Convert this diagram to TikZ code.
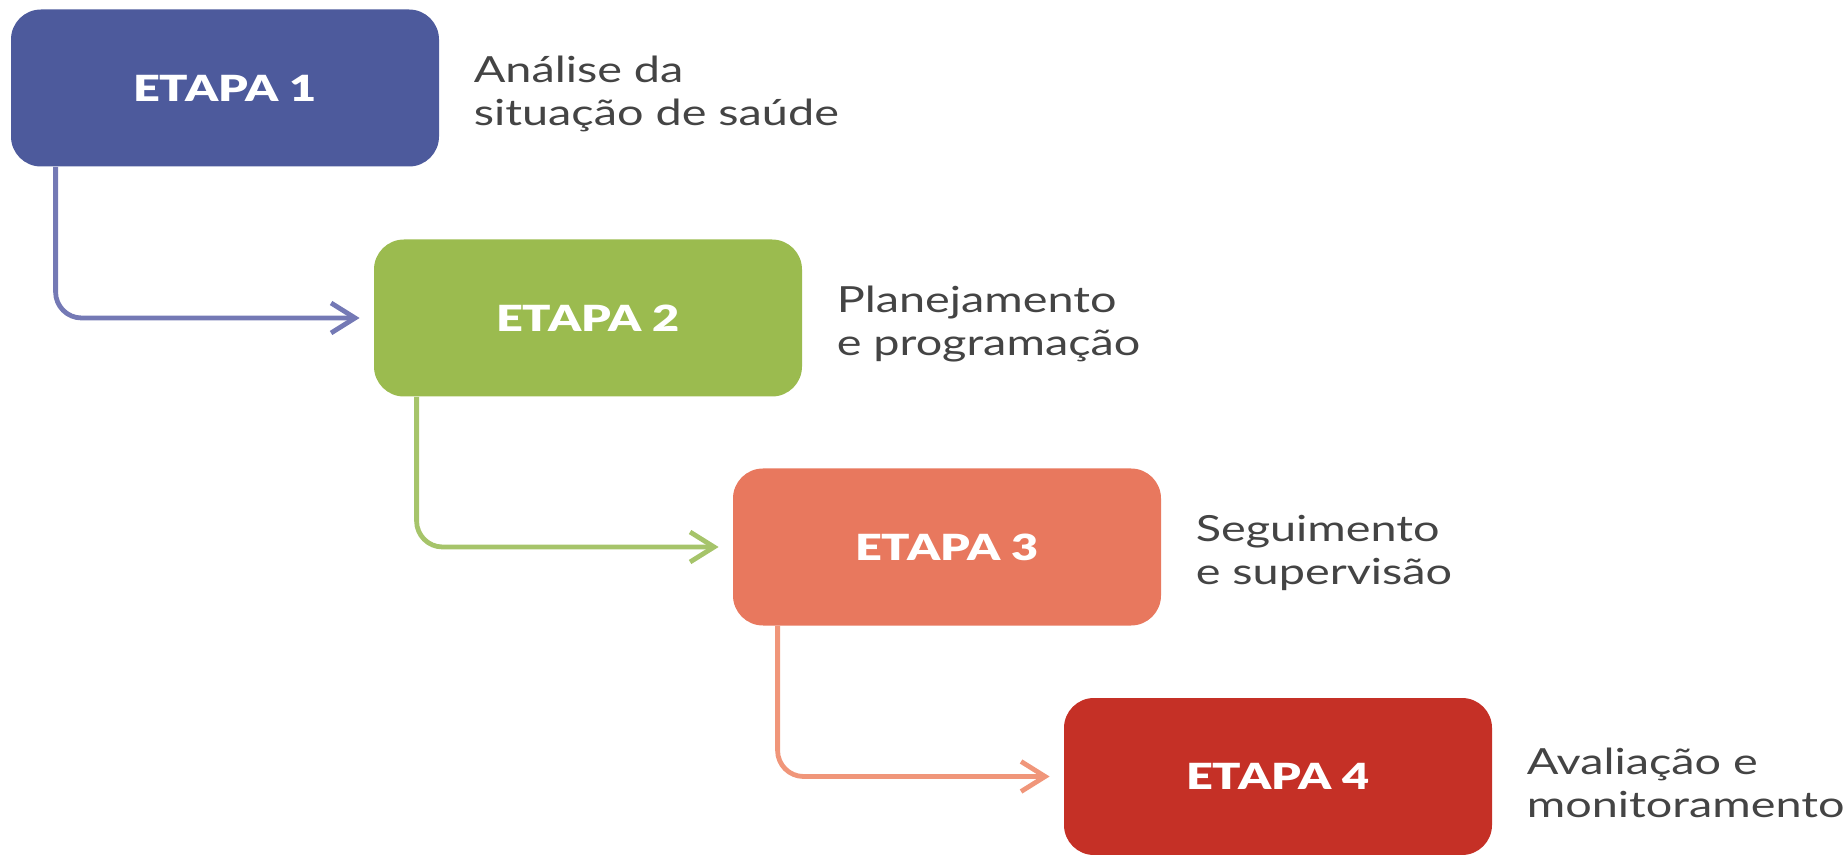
\documentclass[tikz,border=0pt]{standalone}
\usepackage{fontspec}
\setmainfont[FakeStretch=1.3]{Lato}
\newfontfamily\etapafont[FakeStretch=1.3]{Lato Black}
\usepackage{xcolor}
\usepackage{tikz}
\usetikzlibrary{positioning, arrows.meta}

\definecolor{etapaA}{HTML}{4D5A9C}
\definecolor{etapaB}{HTML}{9BBB4F}
\definecolor{etapaC}{HTML}{E8785E}
\definecolor{etapaD}{HTML}{C53026}
\definecolor{setaA}{HTML}{7479B5}
\definecolor{setaB}{HTML}{A6C46A}
\definecolor{setaC}{HTML}{F0967A}
\definecolor{cinza}{HTML}{444444}

\begin{document}
\begin{tikzpicture}[x=0.5pt, y=-0.5pt, node distance=17pt,
	etapa/.style={rounded corners=15pt, minimum width=214pt, minimum height=78.5pt,
		text=white, font=\fontsize{18}{22}\etapafont},
	rotulo/.style={anchor=west, align=left, inner sep=0pt, text=cinza, yshift=-3pt,
		font=\fontsize{18}{21.5}\selectfont},
	seta/.style={line width=2.4pt, rounded corners=13pt, shorten >=7pt,
		-{Straight Barb[length=12pt, width=15pt]}}]
		\useasboundingbox (0,0) rectangle (1843,855);
		
		\node[etapa, fill=etapaA] (e1) at (225,88) {ETAPA 1};
		\node[etapa, fill=etapaB] (e2) at (588,318) {ETAPA 2};
		\node[etapa, fill=etapaC] (e3) at (947,547) {ETAPA 3};
		\node[etapa, fill=etapaD] (e4) at (1278,776.5) {ETAPA 4};
		
		\node[rotulo] (r1) [right=of e1] {Análise da\\situação de saúde};
		\node[rotulo] (r2) [right=of e2] {Planejamento\\e programação};
		\node[rotulo] (r3) [right=of e3] {Seguimento\\e supervisão};
		\node[rotulo] (r4) [right=of e4] {Avaliação e\\monitoramento};
		
		\draw[seta, setaA] ([xshift=22.5pt]e1.south west) |- (e2.west);
		\draw[seta, setaB] ([xshift=21.5pt]e2.south west) |- (e3.west);
		\draw[seta, setaC] ([xshift=22.5pt]e3.south west) |- (e4.west);
	\end{tikzpicture}
\end{document}
